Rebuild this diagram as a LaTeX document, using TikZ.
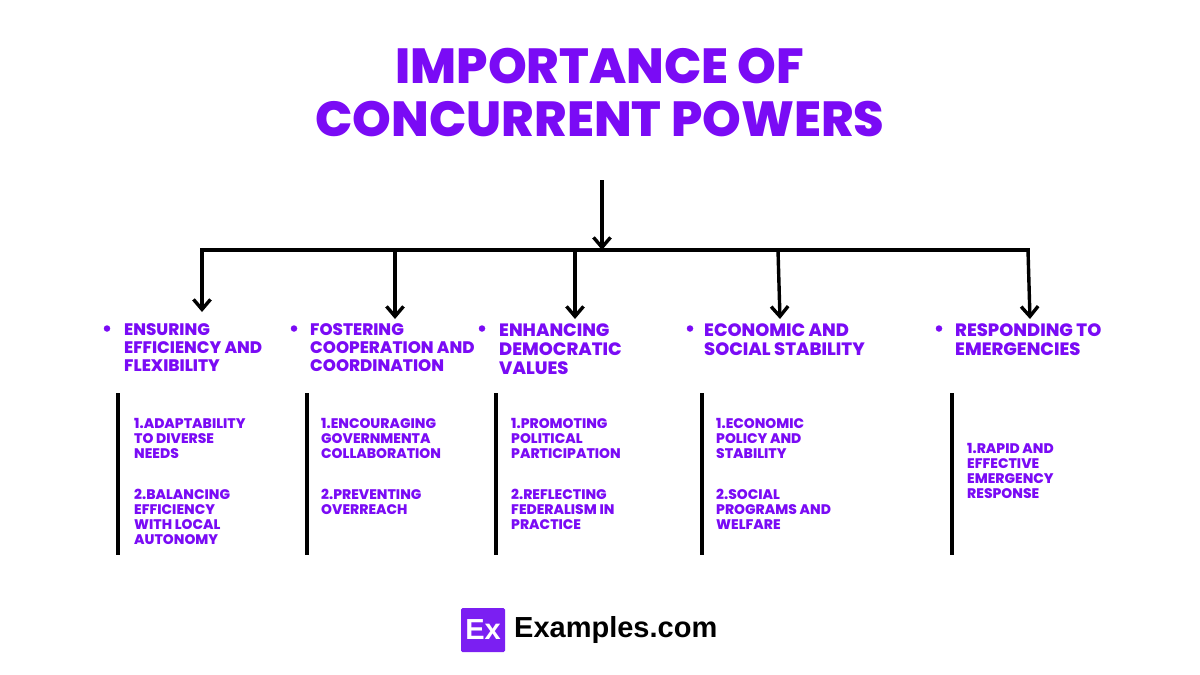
\documentclass[tikz,border=0pt]{standalone}
\usepackage{xcolor}
\usepackage{fontspec}
\setmainfont{Poppins}[BoldFont=* ExtraBold]
\newfontfamily\logofont{Liberation Sans}
\usetikzlibrary{arrows.meta}
\definecolor{titlepurple}{HTML}{7A0BF5}
\definecolor{logopurple}{HTML}{7B1FF2}
\tikzset{
  headtext/.style={anchor=north west, align=left, inner sep=0pt, text=titlepurple, font=\bfseries\fontsize{16.7}{18}\selectfont},
  headwide/.style={headtext, font=\bfseries\fontsize{17.9}{19}\selectfont},
  subtext/.style={anchor=north west, align=left, inner sep=0pt, text=titlepurple, font=\bfseries\fontsize{13.9}{15}\selectfont},
  dotmark/.style={circle, fill=titlepurple, inner sep=0pt, minimum size=6.5pt},
  linkline/.style={line width=3.6pt, black},
  linkarrow/.style={line width=3.4pt, black, -{Straight Barb[length=10pt,width=17pt,line width=3.4pt]}},
  sidebar/.style={line width=4pt, black}
}
\begin{document}
\begin{tikzpicture}[x=1pt,y=-1pt]
  \useasboundingbox (0,0) rectangle (1200,675);

  % Title
  \node[text=titlepurple, align=center, inner sep=0pt, font=\bfseries\fontsize{49.3}{53}\selectfont] (title) at (600,93) {IMPORTANCE OF\\CONCURRENT POWERS};

  % Bus and arrows
  \coordinate (top) at (602,180);
  \coordinate (bus) at (602,250);
  \coordinate (busa) at (202,250);
  \coordinate (busb) at (395,250);
  \coordinate (busc) at (575,250);
  \coordinate (busd) at (778,250);
  \coordinate (buse) at (1028,250);
  \coordinate (tipa) at (202,312);
  \coordinate (tipb) at (395,319);
  \coordinate (tipc) at (575,319);
  \coordinate (tipd) at (780,319);
  \coordinate (tipe) at (1030,319);
  \draw[linkarrow] (top) -- (bus);
  \draw[linkline, line cap=rect] (busa) -- (buse);
  \draw[linkarrow] (busa) -- (tipa);
  \draw[linkarrow] (busb) -- (tipb);
  \draw[linkarrow] (busc) -- (tipc);
  \draw[linkarrow] (busd) -- (tipd);
  \draw[linkarrow] (buse) -- (tipe);

  % Headings
  \node[dotmark] (dota) at (107,328.5) {};
  \node[dotmark] (dotb) at (294,328.5) {};
  \node[dotmark] (dotc) at (482,328.5) {};
  \node[dotmark] (dotd) at (690,328.5) {};
  \node[dotmark] (dote) at (939,328.5) {};
  \node[headtext] (heada) at (124,323.5) {ENSURING\\EFFICIENCY AND\\FLEXIBILITY};
  \node[headtext] (headb) at (310,323.5) {FOSTERING\\COOPERATION AND\\COORDINATION};
  \node[headwide] (headc) at (499,324) {ENHANCING\\DEMOCRATIC\\VALUES};
  \node[headwide] (headd) at (704,323) {ECONOMIC AND\\SOCIAL STABILITY};
  \node[headwide] (heade) at (955,323) {RESPONDING TO\\EMERGENCIES};

  % Side bars
  \draw[sidebar] (118,393) -- (118,555);
  \draw[sidebar] (307,393) -- (307,555);
  \draw[sidebar] (496,393) -- (496,555);
  \draw[sidebar] (702,393) -- (702,555);
  \draw[sidebar] (952,393) -- (952,555);

  % Sub points
  \node[subtext] (suba) at (134,418) {1.ADAPTABILITY\\TO DIVERSE\\NEEDS};
  \node[subtext] (subaa) at (134,489) {2.BALANCING\\EFFICIENCY\\WITH LOCAL\\AUTONOMY};
  \node[subtext] (subb) at (321,418) {1.ENCOURAGING\\GOVERNMENTA\\COLLABORATION};
  \node[subtext] (subbb) at (321,489) {2.PREVENTING\\OVERREACH};
  \node[subtext] (subc) at (511,418) {1.PROMOTING\\POLITICAL\\PARTICIPATION};
  \node[subtext] (subcc) at (511,489) {2.REFLECTING\\FEDERALISM IN\\PRACTICE};
  \node[subtext] (subd) at (716,418) {1.ECONOMIC\\POLICY AND\\STABILITY};
  \node[subtext] (subdd) at (716,489) {2.SOCIAL\\PROGRAMS AND\\WELFARE};
  \node[subtext] (sube) at (967,443) {1.RAPID AND\\EFFECTIVE\\EMERGENCY\\RESPONSE};

  % Logo
  \node[fill=logopurple, rounded corners=1.5pt, minimum width=44pt, minimum height=44pt, inner sep=0pt, text=white, font=\logofont\bfseries\fontsize{29}{29}\selectfont] (logo) at (483,630) {Ex};
  \node[anchor=west, inner sep=0pt, text=black, font=\logofont\bfseries\fontsize{29}{29}\selectfont] (logotext) at (514,630) {Examples.com};
\end{tikzpicture}
\end{document}
